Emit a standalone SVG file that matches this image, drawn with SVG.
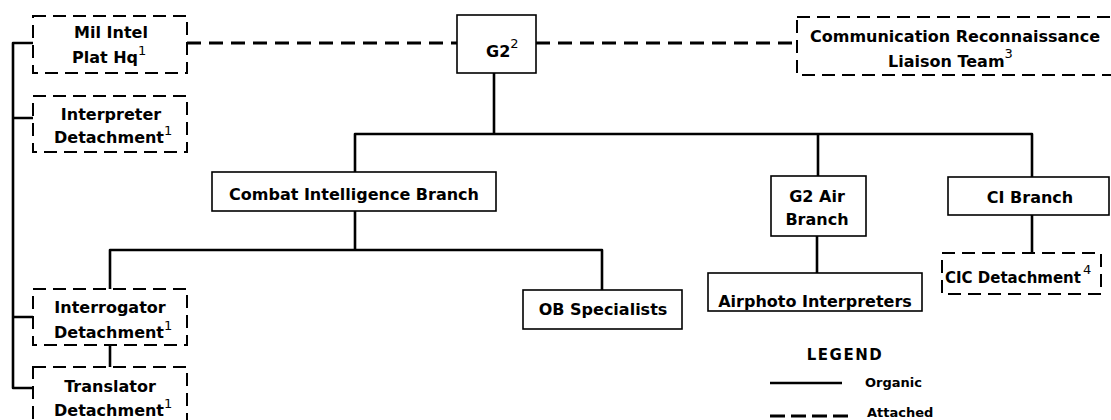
<svg xmlns="http://www.w3.org/2000/svg" width="1111" height="420" viewBox="0 0 1111 420">
<style>
  .bg{fill:#fff}
  .solid{fill:#fff;stroke:#000;stroke-width:1.6}
  .dash{fill:#fff;stroke:#000;stroke-width:2;stroke-dasharray:13 7}
  .org{fill:none;stroke:#000;stroke-width:2.6;stroke-linejoin:round}
  .att{fill:none;stroke:#000;stroke-width:2.8;stroke-dasharray:14 8}
  text{font-family:"DejaVu Sans","Liberation Sans",sans-serif;font-weight:bold;font-size:16px;fill:#000}
  .m{text-anchor:middle}
  .sup{font-size:13px;font-weight:normal;fill:#000}
  .leg{font-size:13px}
</style>
<rect class="bg" width="1111" height="420"/>
<g id="connectors">
  <path class="att" d="M187 43 H457"/>
  <path class="att" d="M536 43 H797"/>
  <path class="org" d="M33 43 H13 V388 H33 M13 118 H33 M13 317 H33"/>
  <path class="org" d="M494 73 V134 M355 172 V134 H1032 V177 M818 134 V176"/>
  <path class="org" d="M355 211 V250 M110 289 V250 H602 V290"/>
  <path class="org" d="M110 345 V367"/>
  <path class="org" d="M817 236 V273"/>
  <path class="org" d="M1032 215 V253"/>
</g>
<g id="mil-intel">
  <rect class="dash" x="33" y="16" width="154" height="57"/>
  <text class="m" x="111" y="38">Mil Intel</text>
  <text x="72" y="63">Plat Hq<tspan class="sup" dy="-8">1</tspan></text>
</g>
<g id="interpreter">
  <rect class="dash" x="33" y="96" width="154" height="56"/>
  <text class="m" x="111" y="120">Interpreter</text>
  <text x="54" y="143">Detachment<tspan class="sup" dy="-8">1</tspan></text>
</g>
<g id="g2">
  <rect class="solid" x="457" y="15" width="79" height="58"/>
  <text x="486" y="57">G2<tspan class="sup" dy="-9">2</tspan></text>
</g>
<g id="comm-recon">
  <rect class="dash" x="797" y="17" width="320" height="58"/>
  <text class="m" x="955" y="42">Communication Reconnaissance</text>
  <text x="888" y="67">Liaison Team<tspan class="sup" dy="-9">3</tspan></text>
</g>
<g id="combat-intel">
  <rect class="solid" x="212" y="172" width="284" height="39"/>
  <text class="m" x="354" y="200">Combat Intelligence Branch</text>
</g>
<g id="g2-air">
  <rect class="solid" x="771" y="176" width="95" height="60"/>
  <text class="m" x="817" y="202">G2 Air</text>
  <text class="m" x="817" y="225">Branch</text>
</g>
<g id="ci-branch">
  <rect class="solid" x="948" y="177" width="161" height="38"/>
  <text class="m" x="1030" y="203">CI Branch</text>
</g>
<g id="ob-specialists">
  <rect class="solid" x="523" y="290" width="159" height="39"/>
  <text class="m" x="603" y="315">OB Specialists</text>
</g>
<g id="airphoto">
  <rect class="solid" x="708" y="273" width="214" height="38"/>
  <text class="m" x="815" y="307">Airphoto Interpreters</text>
</g>
<g id="cic">
  <rect class="dash" x="942" y="253" width="159" height="41"/>
  <text x="945" y="283" style="font-size:15px">CIC Detachment<tspan class="sup" dx="2" dy="-9">4</tspan></text>
</g>
<g id="interrogator">
  <rect class="dash" x="33" y="289" width="154" height="56"/>
  <text class="m" x="110" y="313">Interrogator</text>
  <text x="54" y="338">Detachment<tspan class="sup" dy="-8">1</tspan></text>
</g>
<g id="translator">
  <rect class="dash" x="33" y="367" width="154" height="62"/>
  <text class="m" x="110" y="392">Translator</text>
  <text x="54" y="416">Detachment<tspan class="sup" dy="-8">1</tspan></text>
</g>
<g id="legend">
  <text class="m" x="845" y="360" style="font-size:15px;letter-spacing:1.5px">LEGEND</text>
  <path class="org" d="M770 383 H842"/>
  <text class="leg" x="865" y="387">Organic</text>
  <path class="att" d="M770 416 H848" style="stroke-dasharray:15 6"/>
  <text class="leg" x="867" y="417">Attached</text>
</g>
</svg>
